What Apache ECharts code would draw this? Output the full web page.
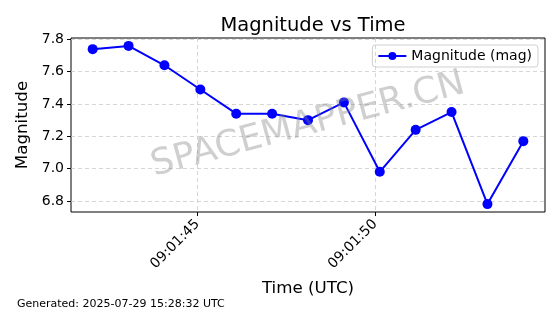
<!DOCTYPE html>
<html><head><meta charset="utf-8">
<script src="https://cdn.jsdelivr.net/npm/echarts@6/dist/echarts.min.js"></script>
<style>html,body{margin:0;padding:0;background:#fff}#c{width:560px;height:314px}</style>
</head><body><div id="c"></div>
<script>
// seconds after 09:01:00 UTC
const times = [42.05, 43.06, 44.07, 45.08, 46.09, 47.10, 48.11, 49.12, 50.13, 51.14, 52.15, 53.16, 54.17];
const magnitudes = [7.74, 7.76, 7.64, 7.49, 7.34, 7.34, 7.30, 7.41, 6.98, 7.24, 7.35, 6.78, 7.17];
const xTicks = [45, 50];
const yTicks = [6.8, 7.0, 7.2, 7.4, 7.6, 7.8];
const seriesName = 'Magnitude (mag)';

function fmtTime(s){ return '09:01:' + String(Math.round(s)).padStart(2,'0'); }

const chart = echarts.init(document.getElementById('c'));
const font = 'DejaVu Sans';
chart.setOption({
  animation: false,
  textStyle: {fontFamily: font},
  title: {text: 'Magnitude vs Time', left: 308, top: 11, textAlign: 'center',
    textStyle: {fontFamily: font, fontSize: 19.5, fontWeight: 'normal', color: '#000'}},
  grid: {left: 71, top: 38, width: 474, height: 174, show: true, borderColor: '#000', borderWidth: 1, backgroundColor: 'transparent'},
  legend: {right: 22, top: 45, itemWidth: 28, itemHeight: 10, itemGap: 8,
    borderColor: '#d0d0d0', borderWidth: 1, borderRadius: 3, padding: [4, 6, 4, 5],
    textStyle: {fontFamily: font, fontSize: 14, color: '#000'}, data: [seriesName]},
  xAxis: {type: 'value', min: 41.44, max: 54.78,
    name: 'Time (UTC)', nameLocation: 'middle', nameGap: 68,
    nameTextStyle: {fontFamily: font, fontSize: 16.7, color: '#000'},
    axisLine: {show: false},
    axisTick: {show: true, length: 4, lineStyle: {color: '#000'}, customValues: xTicks},
    axisLabel: {rotate: 45, fontFamily: font, fontSize: 14, color: '#000', margin: 10,
      customValues: xTicks, formatter: v => fmtTime(v)},
    splitLine: {show: true, lineStyle: {color: '#cccccc', type: [4, 3], width: 0.8}}
  },
  yAxis: {type: 'value', min: 6.731, max: 7.809,
    name: 'Magnitude', nameLocation: 'middle', nameGap: 39, nameRotate: 90,
    nameTextStyle: {fontFamily: font, fontSize: 16.7, color: '#000'},
    axisLine: {show: false},
    axisTick: {show: true, length: 4, lineStyle: {color: '#000'}, customValues: yTicks},
    axisLabel: {fontFamily: font, fontSize: 14, color: '#000', margin: 7,
      customValues: yTicks, formatter: v => v.toFixed(1)},
    splitLine: {show: true, lineStyle: {color: '#cccccc', type: [4, 3], width: 0.8}}
  },
  graphic: [
    {type: 'text', left: 17, top: 299, style: {text: 'Generated: 2025-07-29 15:28:32 UTC', font: '11px "DejaVu Sans"', fill: '#000'}},
    {type: 'text', x: 308, y: 125, rotation: 15 * Math.PI / 180, z: 100,
      style: {text: 'SPACEMAPPER.CN', font: '36px "DejaVu Sans"', fill: 'rgba(128,128,128,0.38)', align: 'center', verticalAlign: 'middle'}}
  ],
  series: [{
    name: seriesName, type: 'line', data: times.map((t, i) => [t, magnitudes[i]]),
    symbol: 'circle', symbolSize: 10, color: '#0000ff',
    lineStyle: {color: '#0000ff', width: 2}, itemStyle: {color: '#0000ff'}
  }]
});
</script></body></html>
